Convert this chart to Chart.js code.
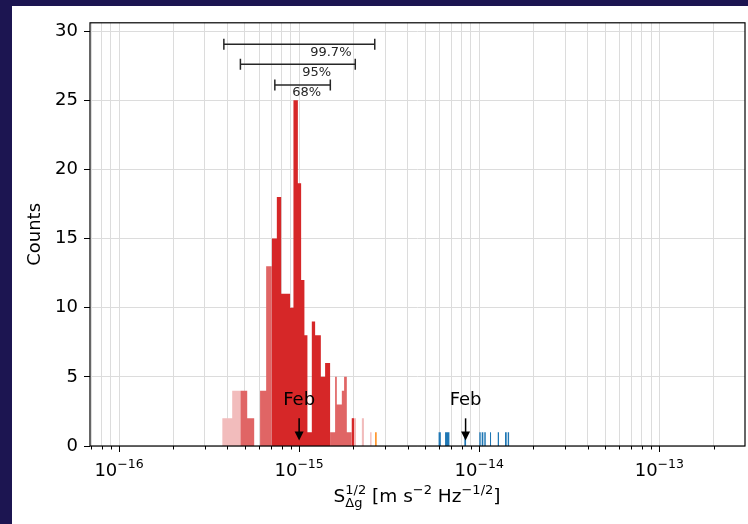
<!DOCTYPE html>
<html>
<head>
<meta charset="utf-8">
<script src="https://cdn.jsdelivr.net/npm/chart.js@4.4.0/dist/chart.umd.min.js"></script>
<style>
  html, body { margin: 0; padding: 0; }
  body { width: 748px; height: 524px; background: #1c1551; position: relative; overflow: hidden; }
  #box { position: absolute; left: 12px; top: 6px; width: 736px; height: 518px; background: #fff; }
  canvas { display: block; }
</style>
</head>
<body>
<div id="box"><canvas id="ourChart" width="736" height="518"></canvas></div>
<script>
// histogram bins: edges in m s^-2 Hz^-1/2, counts per bin
const lightEdges = [3.74e-16, 4.25e-16, 4.71e-16, 1.96e-15, 2.07e-15, 2.23e-15, 2.29e-15, 2.48e-15, 2.53e-15];
const lightCounts = [2, 4, 0, 2, 0, 2, 0, 1];

const mediumEdges = [4.71e-16, 5.15e-16, 5.63e-16, 6.07e-16, 6.56e-16, 7.05e-16, 1.486e-15, 1.584e-15, 1.619e-15, 1.726e-15, 1.777e-15, 1.840e-15, 1.961e-15];
const mediumCounts = [4, 2, 0, 4, 13, 0, 1, 5, 3, 4, 5, 1];

const redEdges = [7.05e-16, 7.52e-16, 7.95e-16, 8.91e-16, 9.30e-16, 9.84e-16, 1.026e-15, 1.070e-15, 1.112e-15, 1.176e-15, 1.227e-15, 1.264e-15, 1.320e-15, 1.394e-15, 1.486e-15, 1.961e-15, 2.02e-15];
const redCounts = [15, 18, 11, 10, 25, 19, 12, 8, 1, 9, 8, 8, 5, 6, 0, 2];

const orangeEdges = [2.64e-15, 2.70e-15];
const orangeCounts = [1];

const blueEdges = [5.93e-15, 6.12e-15, 6.46e-15, 6.83e-15, 8.27e-15, 8.45e-15, 1.001e-14, 1.019e-14, 1.032e-14, 1.054e-14, 1.067e-14, 1.087e-14, 1.148e-14, 1.163e-14, 1.267e-14, 1.288e-14, 1.390e-14, 1.421e-14, 1.439e-14, 1.469e-14];
const blueCounts = [1, 0, 1, 0, 1, 0, 1, 0, 1, 0, 1, 0, 1, 0, 1, 0, 1, 0, 1];

// confidence intervals
const ciLabels = ['99.7%', '95%', '68%'];
const ciLow = [3.82e-16, 4.72e-16, 7.33e-16];
const ciHigh = [2.63e-15, 2.05e-15, 1.49e-15];
const ciLevel = [29.05, 27.6, 26.1];
const ciTextX = [1.50e-15, 1.25e-15, 1.10e-15];

// "Feb" markers
const febValues = [1.0e-15, 8.4e-15];
const febTextY = 3.3;
const febArrowFrom = 2.0;
const febArrowTo = 0.4;

const yTicks = [0, 5, 10, 15, 20, 25, 30];
const xDecades = [-16, -15, -14, -13];

const FONT = '"DejaVu Sans", sans-serif';

function histPoints(edges, counts) {
    const pts = [{x: edges[0], y: 0}];
    counts.forEach((c, i) => pts.push({x: edges[i], y: c}));
    pts.push({x: edges[edges.length - 1], y: 0});
    return pts;
}

function histSet(edges, counts, color, order) {
    return {
        data: histPoints(edges, counts),
        stepped: true,
        fill: 'origin',
        backgroundColor: color,
        borderColor: 'transparent',
        borderWidth: 0,
        pointRadius: 0,
        order: order
    };
}

function ciSet(i) {
    return {
        data: [{x: ciLow[i], y: ciLevel[i]}, {x: ciHigh[i], y: ciLevel[i]}],
        borderColor: '#262626',
        borderWidth: 1.5,
        pointStyle: 'line',
        pointRotation: 90,
        pointRadius: 5.5,
        pointBorderColor: '#262626',
        pointBorderWidth: 1.5,
        fill: false,
        order: 0
    };
}

function drawParts(ctx, parts, cx, baseline) {
    let total = 0;
    parts.forEach(p => {
        ctx.font = p.size + 'px ' + FONT;
        p.w = ctx.measureText(p.text).width;
        if (p.under) p.w = Math.max(p.w, ctx.measureText(p.under).width);
        total += p.w;
    });
    let px = cx - total / 2;
    parts.forEach(p => {
        ctx.font = p.size + 'px ' + FONT;
        ctx.fillText(p.text, px, baseline + (p.dy || 0));
        if (p.under) ctx.fillText(p.under, px, baseline + p.underDy);
        px += p.w;
    });
}

const decorations = {
    id: 'decorations',
    afterDraw(chart) {
        const {ctx, chartArea: a, scales: {x, y}} = chart;
        ctx.save();
        // x ticks, major and minor
        ctx.strokeStyle = '#000';
        ctx.lineWidth = 1;
        for (let e = -17; e <= -13; e++) {
            for (let k = 1; k <= 9; k++) {
                const v = k * Math.pow(10, e);
                if (v < x.min || v > x.max) continue;
                const px = Math.round(x.getPixelForValue(v)) + 0.5;
                ctx.beginPath();
                ctx.moveTo(px, a.bottom);
                ctx.lineTo(px, a.bottom + (k === 1 ? 6 : 3.5));
                ctx.stroke();
            }
        }
        // frame
        ctx.strokeStyle = '#000';
        ctx.lineWidth = 1.2;
        ctx.strokeRect(a.left, a.top, a.right - a.left, a.bottom - a.top);

        ctx.fillStyle = '#000';
        ctx.textAlign = 'left';
        ctx.textBaseline = 'alphabetic';
        xDecades.forEach(e => {
            drawParts(ctx, [
                {text: '10', size: 18},
                {text: '\u2212' + Math.abs(e), size: 12.5, dy: -8}
            ], x.getPixelForValue(Math.pow(10, e)), 470);
        });
        drawParts(ctx, [
            {text: 'S', size: 18.5},
            {text: '1/2', size: 13, dy: -8, under: '\u0394g', underDy: 5},
            {text: ' [m s', size: 18.5},
            {text: '\u22122', size: 13, dy: -8},
            {text: ' Hz', size: 18.5},
            {text: '\u22121/2', size: 13, dy: -8},
            {text: ']', size: 18.5}
        ], 405, 496);

        // y title
        ctx.save();
        ctx.translate(23, (a.top + a.bottom) / 2);
        ctx.rotate(-Math.PI / 2);
        ctx.textAlign = 'center';
        ctx.textBaseline = 'middle';
        ctx.font = '18px ' + FONT;
        ctx.fillText('Counts', 0, 0);
        ctx.restore();

        // CI labels
        ctx.textAlign = 'center';
        ctx.textBaseline = 'middle';
        ctx.font = '13px ' + FONT;
        ctx.fillStyle = '#262626';
        ciLabels.forEach((t, i) => {
            ctx.fillText(t, x.getPixelForValue(ciTextX[i]), y.getPixelForValue(ciLevel[i]) + 8);
        });

        // Feb arrows
        ctx.fillStyle = '#000';
        ctx.strokeStyle = '#000';
        ctx.font = '18px ' + FONT;
        febValues.forEach(v => {
            const px = x.getPixelForValue(v);
            ctx.fillText('Feb', px, y.getPixelForValue(febTextY));
            const y0 = y.getPixelForValue(febArrowFrom);
            const y1 = y.getPixelForValue(febArrowTo);
            ctx.lineWidth = 1.5;
            ctx.beginPath();
            ctx.moveTo(px, y0);
            ctx.lineTo(px, y1 - 8);
            ctx.stroke();
            ctx.beginPath();
            ctx.moveTo(px - 4.5, y1 - 9);
            ctx.lineTo(px + 4.5, y1 - 9);
            ctx.lineTo(px, y1);
            ctx.closePath();
            ctx.fill();
        });
        ctx.restore();
    }
};

const chartElement = new Chart(document.getElementById('ourChart'), {
    type: 'line',
    data: {
        datasets: [
            ciSet(0), ciSet(1), ciSet(2),
            histSet(redEdges, redCounts, '#d62728', 1),
            histSet(blueEdges, blueCounts, '#1f77b4', 1),
            histSet(orangeEdges, orangeCounts, '#ff8c1a', 1),
            histSet(mediumEdges, mediumCounts, '#e06565', 2),
            histSet(lightEdges, lightCounts, '#f2bcbc', 3)
        ]
    },
    options: {
        responsive: false,
        devicePixelRatio: 1,
        animation: false,
        layout: {autoPadding: false, padding: {top: 14.5, right: 3, bottom: 0, left: 0}},
        plugins: {legend: {display: false}, tooltip: {enabled: false}},
        scales: {
            x: {
                type: 'logarithmic',
                min: 6.9e-17,
                max: 2.99e-13,
                bounds: 'data',
                afterBuildTicks: scale => {
                    const t = [];
                    for (let e = -17; e <= -13; e++) {
                        for (let k = 1; k <= 9; k++) {
                            const v = k * Math.pow(10, e);
                            if (v >= scale.min && v <= scale.max) t.push({value: v});
                        }
                    }
                    scale.ticks = t;
                },
                afterFit: scale => { scale.height = 78; },
                ticks: {display: false},
                grid: {color: '#dcdcdc', lineWidth: 1, drawTicks: false},
                border: {display: false}
            },
            y: {
                min: 0,
                max: 30.6,
                afterBuildTicks: scale => { scale.ticks = yTicks.map(v => ({value: v})); },
                afterFit: scale => { scale.width = 78; },
                ticks: {color: '#000', font: {family: FONT, size: 18}, padding: 6},
                grid: {color: '#dcdcdc', lineWidth: 1, tickColor: '#000', tickLength: 6},
                border: {display: false}
            }
        }
    },
    plugins: [decorations]
});
</script>
</body>
</html>
